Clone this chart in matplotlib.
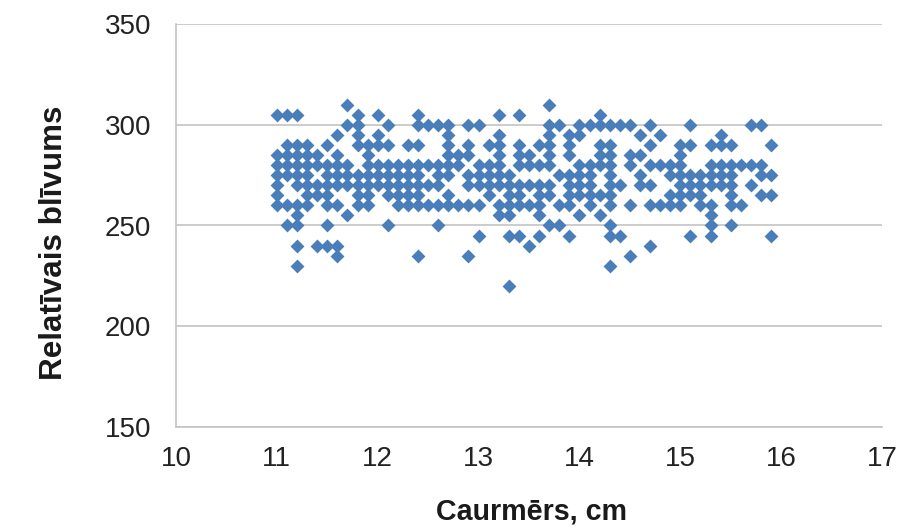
import matplotlib
matplotlib.use('Agg')
import matplotlib.pyplot as plt

plt.rcParams['font.family'] = ['Liberation Sans', 'DejaVu Sans']

# x values for each density level
y_310 = [11.7, 13.7]
y_305 = [11.0, 11.1, 11.2, 11.8, 12.0, 12.4, 13.2, 13.4, 14.2]
y_300 = [11.7, 11.8, 12.1, 12.4, 12.5, 12.6, 12.7, 12.9, 13.0, 13.7, 13.8, 14.0, 14.1, 14.2, 14.3, 14.4, 14.5,
         14.7, 15.1, 15.7, 15.8]
y_295 = [11.6, 11.8, 12.0, 12.7, 13.2, 13.7, 13.9, 14.0, 14.6, 14.8, 15.4]
y_290 = [11.1, 11.2, 11.3, 11.5, 11.8, 11.9, 12.0, 12.1, 12.3, 12.4, 12.7, 12.9, 13.1, 13.2, 13.4, 13.6, 13.7,
         13.9, 14.2, 14.3, 14.7, 15.0, 15.1, 15.3, 15.4, 15.5, 15.9]
y_285 = [11.0, 11.1, 11.2, 11.3, 11.4, 11.6, 11.9, 12.7, 12.8, 12.9, 13.2, 13.4, 13.5, 13.7, 13.9, 14.2, 14.3,
         14.5, 14.6, 15.0]
y_280 = [11.0, 11.1, 11.2, 11.3, 11.4, 11.5, 11.6, 11.7, 11.9, 12.0, 12.1, 12.2, 12.3, 12.4, 12.5, 12.6, 12.7,
         12.8, 13.0, 13.1, 13.2, 13.4, 13.5, 13.6, 13.7, 14.0, 14.1, 14.2, 14.3, 14.5, 14.7, 14.8, 14.9, 15.0,
         15.3, 15.4, 15.5, 15.6, 15.7, 15.8]
y_275 = [11.0, 11.1, 11.2, 11.3, 11.5, 11.6, 11.7, 11.8, 11.9, 12.0, 12.1, 12.2, 12.3, 12.4, 12.6, 12.7, 12.9,
         13.0, 13.1, 13.2, 13.3, 13.8, 13.9, 14.0, 14.1, 14.3, 14.6, 14.9, 15.0, 15.1, 15.2, 15.3, 15.4, 15.5,
         15.8, 15.9]
y_270 = [11.0, 11.2, 11.3, 11.4, 11.5, 11.6, 11.7, 11.8, 11.9, 12.0, 12.1, 12.2, 12.3, 12.4, 12.5, 12.6, 12.9,
         13.0, 13.1, 13.2, 13.3, 13.4, 13.5, 13.6, 13.7, 13.9, 14.0, 14.1, 14.3, 14.4, 14.6, 14.7, 15.0, 15.1,
         15.2, 15.3, 15.4, 15.5, 15.7]
y_265 = [11.0, 11.3, 11.4, 11.5, 11.8, 11.9, 12.1, 12.2, 12.3, 12.4, 12.7, 13.1, 13.3, 13.4, 13.6, 13.7, 13.9,
         14.0, 14.1, 14.2, 14.3, 14.9, 15.0, 15.1, 15.2, 15.5, 15.8, 15.9]
y_260 = [11.0, 11.1, 11.2, 11.3, 11.5, 11.6, 11.8, 11.9, 12.2, 12.3, 12.4, 12.5, 12.6, 12.7, 12.8, 12.9, 13.0,
         13.2, 13.3, 13.4, 13.5, 13.6, 13.8, 13.9, 14.1, 14.3, 14.5, 14.7, 14.8, 14.9, 15.0, 15.2, 15.3, 15.5,
         15.6]
y_255 = [11.2, 11.7, 13.2, 13.3, 13.6, 14.0, 14.2, 15.3]
y_250 = [11.1, 11.2, 11.5, 12.1, 12.6, 13.7, 13.8, 14.3, 15.3, 15.5]
y_245 = [13.0, 13.3, 13.4, 13.6, 13.9, 14.3, 14.4, 15.1, 15.3, 15.9]
y_240 = [11.2, 11.4, 11.5, 11.6, 13.5, 14.7]
y_235 = [11.6, 12.4, 12.9, 14.5]
y_230 = [11.2, 14.3]
y_220 = [13.3]

levels = [310, 305, 300, 295, 290, 285, 280, 275, 270, 265, 260, 255, 250, 245, 240, 235, 230, 220]
rows = [y_310, y_305, y_300, y_295, y_290, y_285, y_280, y_275, y_270, y_265, y_260, y_255, y_250, y_245,
        y_240, y_235, y_230, y_220]

xs = []
ys = []
for level, row in zip(levels, rows):
    xs = xs + row
    ys = ys + [level] * len(row)

fig = plt.figure(figsize=(8.98, 5.29), dpi=100)
ax = fig.add_axes([176 / 898, 1 - 427 / 529, 706 / 898, 403 / 529])

ax.scatter(xs, ys, marker='D', s=50, color='#4a7ebb', linewidths=0, zorder=3, clip_on=False)

ax.set_xlim(10, 17)
ax.set_ylim(150, 350)
ax.set_xticks(range(10, 18))
ax.set_yticks([150, 200, 250, 300, 350])
ax.grid(axis='y', color='#c4c4c4', linewidth=1.2)
ax.set_axisbelow(True)
for side in ['top', 'right']:
    ax.spines[side].set_visible(False)
for side in ['left', 'bottom']:
    ax.spines[side].set_color('#c4c4c4')
    ax.spines[side].set_linewidth(1.2)
ax.tick_params(axis='both', length=0, labelsize=20, labelcolor='#222222')
ax.tick_params(axis='x', pad=14)
ax.tick_params(axis='y', pad=18)

fig.text(531 / 898, 1 - 511 / 529, 'Caurmērs, cm', fontsize=20.6, fontweight='bold', color='#1a1a1a',
         ha='center', va='center')
fig.text(54 / 898, 1 - 243 / 529, 'Relatīvais blīvums', fontsize=22.6, fontweight='bold', color='#1a1a1a',
         rotation=90, ha='center', va='center')

fig.savefig('out.png', dpi=100)
